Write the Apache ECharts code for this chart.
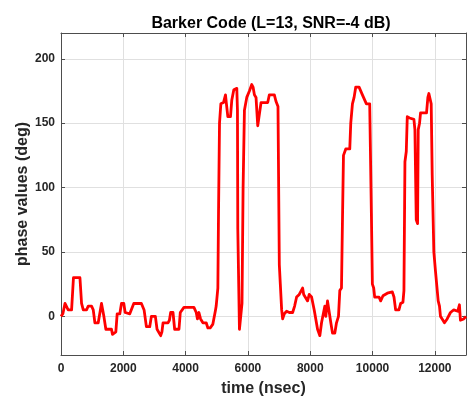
<!DOCTYPE html>
<html>
<head>
<meta charset="utf-8">
<script src="https://cdn.jsdelivr.net/npm/echarts@6/dist/echarts.min.js"></script>
<style>
  html, body { margin: 0; padding: 0; background: #fff; }
  #chart { width: 469px; height: 402px; }
</style>
</head>
<body>
<div id="chart"></div>
<script>
// Sample times (nsec) and the measured phase (deg) of the received Barker-13 signal
const timeNs = [
  0, 60, 128, 230, 340, 400, 501, 608, 660, 715, 820, 875, 980, 1035, 1088, 1195,
  1300, 1376, 1440, 1620, 1653, 1760, 1803, 1888, 1941, 2016, 2059, 2208, 2336, 2581,
  2613, 2667, 2741, 2848, 2901, 3029, 3083, 3200, 3240, 3275, 3435, 3480, 3520, 3595,
  3648, 3787, 3829, 3947, 4267, 4341, 4380, 4427, 4480, 4555, 4661, 4715, 4789, 4875,
  4928, 4960, 4981, 5035, 5056, 5088, 5131, 5216, 5280, 5310, 5355, 5440, 5483, 5547,
  5643, 5664, 5675, 5707, 5728, 5792, 5810, 5845, 5888, 5963, 6048, 6123, 6165, 6208,
  6260, 6315, 6379, 6421, 6635, 6688, 6848, 6900, 6965, 7008, 7040, 7083, 7115, 7168,
  7243, 7328, 7435, 7499, 7563, 7648, 7755, 7790, 7915, 7968, 8043, 8128, 8235, 8309,
  8363, 8469, 8500, 8555, 8605, 8661, 8715, 8789, 8843, 8907, 8949, 9003, 9035, 9067,
  9141, 9269, 9301, 9355, 9408, 9461, 9568, 9675, 9803, 9909, 9963, 9995, 10037, 10069,
  10208, 10261, 10336, 10475, 10635, 10688, 10741, 10848, 10901, 10976, 11008, 11040, 11083, 11115,
  11189, 11328, 11360, 11403, 11445, 11467, 11509, 11541, 11733, 11776, 11808, 11883, 11915, 11968,
  12021, 12107, 12149, 12181, 12235, 12309, 12395, 12501, 12608, 12736, 12789, 12821, 12928, 13000
];
const phaseDeg = [
  0, 2, 10, 5, 5, 30, 30, 30, 10, 5, 5, 8, 8, 5, -5, -5,
  10, 0, -10, -10, -14, -12, 2, 2, 10, 10, 3, 2, 10, 10,
  11, 5, -8, -8, 0, 0, -10, -15, -12, -5, -5, -3, 3, 3,
  -10, -10, 3, 7, 7, 3, -2, 3, -2, -5, -5, -9, -9, -6,
  -6, 5, 8, 22, 80, 150, 165, 166, 172, 165, 155, 155, 168, 176,
  177, 160, 68, 68, -10, -10, 10, 100, 160, 170, 175, 180, 178, 172,
  170, 148, 148, 166, 166, 172, 172, 167, 163, 40, 25, 5, -2, 2,
  4, 3, 3, 8, 15, 17, 22, 17, 12, 17, 15, 5, -10, -15,
  -5, 8, 0, 12, 12, -5, -13, -13, -5, 0, 20, 22, 75, 125,
  130, 130, 150, 165, 170, 178, 178, 172, 165, 165, 80, 25, 22, 15,
  15, 12, 16, 18, 19, 15, 5, 5, 10, 11, 20, 120, 128, 155,
  154, 153, 145, 75, 72, 145, 150, 158, 158, 170, 173, 165, 110, 50,
  35, 12, 8, 0, -2, -5, -2, 3, 5, 4, 9, -3, -2, 0
];
const xTicks = [0, 2000, 4000, 6000, 8000, 10000, 12000];
const yTicks = [0, 50, 100, 150, 200];

const axisColor = '#4d4d4d';
const textColor = '#262626';
const gridColor = '#e0e0e0';
const fontFamily = 'Liberation Sans, Arial, sans-serif';

const chart = echarts.init(document.getElementById('chart'), null, { renderer: 'canvas' });

const seriesData = timeNs.map((t, i) => [t, phaseDeg[i]]);

const baseX = {
  type: 'value', min: 0, max: 13000, interval: 2000,
  axisLine: { show: true, onZero: false, lineStyle: { color: axisColor, width: 1 } },
  axisTick: { show: true, inside: true, length: 4, lineStyle: { color: axisColor } },
};
const baseY = {
  type: 'value', min: -30, max: 220,
  axisLine: { show: true, onZero: false, lineStyle: { color: axisColor, width: 1 } },
  axisTick: { show: true, inside: true, length: 4, customValues: yTicks, lineStyle: { color: axisColor } },
};

chart.setOption({
  animation: false,
  backgroundColor: '#ffffff',
  title: {
    text: 'Barker Code (L=13, SNR=-4 dB)',
    left: 266, top: 11, textAlign: 'center',
    textStyle: { fontFamily: fontFamily, fontWeight: 'bold', fontSize: 16, color: '#000' }
  },
  grid: { left: 61, right: 3, top: 33, bottom: 46, containLabel: false },
  xAxis: [
    Object.assign({}, baseX, {
      position: 'bottom',
      name: 'time (nsec)', nameLocation: 'middle', nameGap: 26, nameMoveOverlap: false,
      nameTextStyle: { fontFamily: fontFamily, fontWeight: 'bold', fontSize: 16, color: textColor },
      axisLabel: {
        show: true, margin: 8, showMaxLabel: false,
        fontFamily: fontFamily, fontWeight: 'bold', fontSize: 12, color: textColor,
        formatter: v => (xTicks.includes(v) ? String(v) : '')
      },
      splitLine: { show: true, lineStyle: { color: gridColor, width: 1 } }
    }),
    Object.assign({}, baseX, {
      position: 'top',
      axisLabel: { show: false },
      splitLine: { show: false }
    })
  ],
  yAxis: [
    Object.assign({}, baseY, {
      position: 'left',
      name: 'phase values (deg)', nameLocation: 'middle', nameGap: 30, nameMoveOverlap: false,
      nameTextStyle: { fontFamily: fontFamily, fontWeight: 'bold', fontSize: 16, color: textColor },
      axisLabel: {
        show: true, margin: 6, customValues: yTicks,
        fontFamily: fontFamily, fontWeight: 'bold', fontSize: 12, color: textColor
      },
      splitLine: { show: true, lineStyle: { color: gridColor, width: 1 } }
    }),
    Object.assign({}, baseY, {
      position: 'right',
      axisLabel: { show: false, customValues: yTicks },
      splitLine: { show: false }
    })
  ],
  series: [{
    type: 'line',
    data: seriesData,
    xAxisIndex: 0, yAxisIndex: 0,
    showSymbol: false,
    symbol: 'none',
    lineStyle: { color: '#ff0000', width: 2.8, join: 'round' },
    clip: true
  }]
});
</script>
</body>
</html>
